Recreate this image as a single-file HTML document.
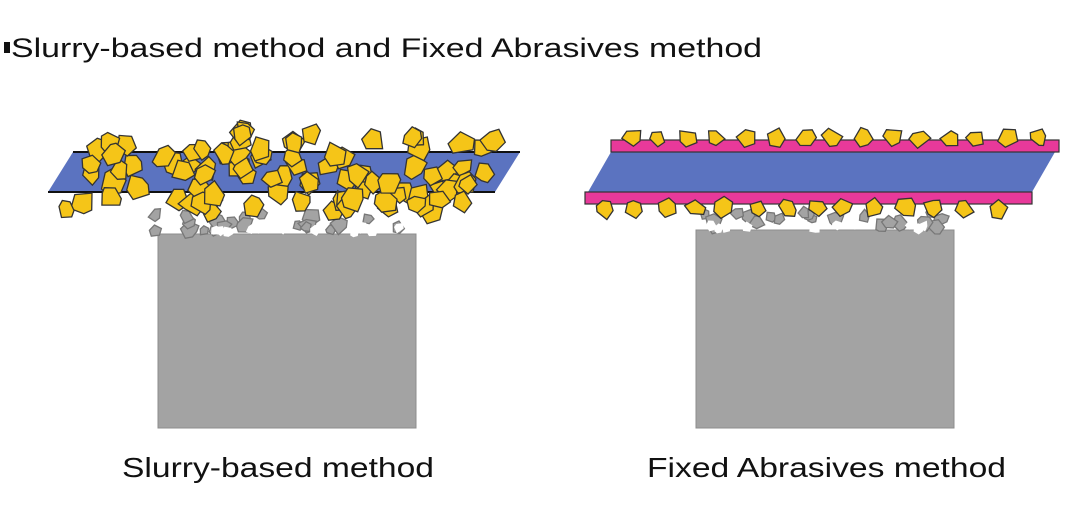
<!DOCTYPE html>
<html><head><meta charset="utf-8"><style>
html,body{margin:0;padding:0;background:#fff;width:1084px;height:519px;overflow:hidden}
svg{display:block}
text{font-family:"Liberation Sans",Arial,sans-serif;fill:#111}
</style></head><body>
<svg id="s" width="1084" height="519" viewBox="0 0 1084 519">
<rect x="0" y="0" width="1084" height="519" fill="#fff"/>
<rect x="4" y="42" width="6" height="11" fill="#111"/>
<text x="11" y="57" font-size="27" textLength="751" lengthAdjust="spacingAndGlyphs">Slurry-based method and Fixed Abrasives method</text>
<text x="122" y="477" font-size="28" textLength="312" lengthAdjust="spacingAndGlyphs">Slurry-based method</text>
<text x="647" y="477" font-size="28" textLength="359" lengthAdjust="spacingAndGlyphs">Fixed Abrasives method</text>
<rect x="158" y="234" width="258" height="194" fill="#a3a3a3" stroke="#8d8d8d"/>
<rect x="696" y="230" width="258" height="198" fill="#a3a3a3" stroke="#8d8d8d"/>
<g id="debris"></g>
<polygon points="73,152 520,152 495,192 48,192" fill="#5b73c0"/>
<line x1="73" y1="152" x2="520" y2="152" stroke="#111" stroke-width="2"/>
<line x1="48" y1="192" x2="495" y2="192" stroke="#111" stroke-width="2"/>
<polygon points="611,152 1055,152 1032,192 588,192" fill="#5b73c0"/>
<rect x="611" y="140" width="448" height="12" fill="#e8399a" stroke="#333" stroke-width="1.2"/>
<rect x="585" y="192" width="447" height="12" fill="#e8399a" stroke="#333" stroke-width="1.2"/>
<g id="grains"></g>
</svg>
<script>
var seed=7;function r(){seed=(seed*16807)%2147483647;return (seed-1)/2147483646;}
var NS="http://www.w3.org/2000/svg";
function poly(g,cx,cy,s,fill,stroke){var n=5+Math.floor(r()*2),pts=[],a0=r()*6.28;
for(var i=0;i<n;i++){var a=a0+i*6.283/n+(r()-.5)*.6,rr=s*(0.7+r()*0.45);pts.push((cx+Math.cos(a)*rr).toFixed(1)+","+(cy+Math.sin(a)*rr).toFixed(1));}
var p=document.createElementNS(NS,"polygon");p.setAttribute("points",pts.join(" "));p.setAttribute("fill",fill);p.setAttribute("stroke",stroke);p.setAttribute("stroke-width","1.3");g.appendChild(p);}
var d=document.getElementById("debris"),g=document.getElementById("grains");
for(var i=0;i<22;i++){poly(d,155+r()*255,212+r()*20,5+r()*5,"#a3a3a3","#777");}
for(var i=0;i<12;i++){poly(d,165+r()*245,227+r()*6,5,"#fff","#fff");}
for(var i=0;i<20;i++){poly(d,705+r()*240,212+r()*16,5+r()*5,"#a3a3a3","#777");}
for(var i=0;i<10;i++){poly(d,710+r()*235,224+r()*6,5,"#fff","#fff");}
for(var i=0;i<95;i++){var y=130+r()*85,x0=95-(y-150)*0.5,x=x0+r()*405;poly(g,x,y,10+r()*3,"#f5c518","#333");}
for(var x=630;x<1050;x+=29){poly(g,x+(r()-.5)*6,138,10,"#f5c518","#333");}
for(var x=605;x<1020;x+=30){poly(g,x+(r()-.5)*6,208,10.5,"#f5c518","#333");}
</script>
</body></html>
